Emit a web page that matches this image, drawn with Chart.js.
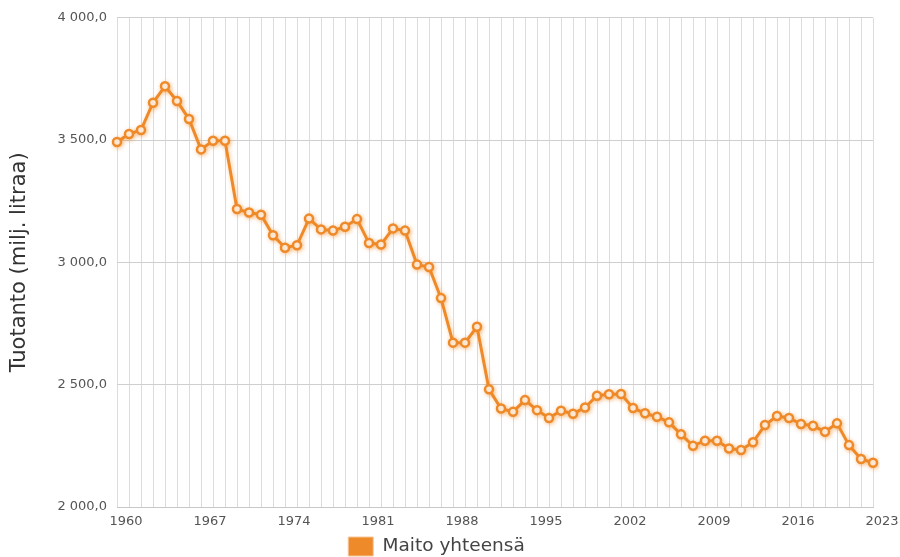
<!DOCTYPE html>
<html>
<head>
<meta charset="utf-8">
<script src="https://cdn.jsdelivr.net/npm/chart.js@4"></script>
<style>
  html, body { margin: 0; padding: 0; background: #fff; }
  #wrap { width: 900px; height: 557px; }
</style>
</head>
<body>
<div id="wrap"><canvas id="chart-canvas"></canvas></div>
<script>
// Maidon tuotanto 1960-2023 (milj. litraa), luettu kuvasta
const years = [];
for (let y = 1960; y <= 2023; y++) years.push(String(y));

const maito = [
    3492, 3525, 3541, 3653, 3720, 3660, 3586, 3462, 3497, 3497,
    3218, 3204, 3195, 3111, 3060, 3070, 3179, 3135, 3130, 3146,
    3177, 3079, 3073, 3139, 3130, 2991, 2981, 2854, 2672, 2672,
    2737, 2481, 2403, 2389, 2437, 2396, 2364, 2394, 2381, 2407,
    2455, 2461, 2462, 2405, 2383, 2369, 2346, 2297, 2250, 2271,
    2271, 2239, 2233, 2265, 2335, 2372, 2364, 2339, 2332, 2308,
    2342, 2253, 2196, 2181
];

const yTicks = [2000, 2500, 3000, 3500, 4000];

const orange = "#ef8a2a";

function fiNumber(v) {
    const s = Math.round(v).toString().replace(/\B(?=(\d{3})+(?!\d))/g, " ");
    return s + ",0";
}

const glow = {
    id: "glow",
    beforeDatasetDraw(chart) {
        const ctx = chart.ctx;
        ctx.save();
        ctx.shadowColor = "rgba(240,140,40,0.45)";
        ctx.shadowBlur = 4;
        ctx.shadowOffsetX = 1;
        ctx.shadowOffsetY = 1;
    },
    afterDatasetDraw(chart) {
        chart.ctx.restore();
    }
};

const chart = new Chart(document.getElementById("chart-canvas"), {
    type: "line",
    data: {
        labels: years,
        datasets: [{
            label: "Maito yhteensä",
            data: maito,
            borderColor: orange,
            backgroundColor: orange,
            borderWidth: 3,
            pointRadius: 4,
            pointBorderWidth: 2.5,
            pointBackgroundColor: "#fff",
            pointBorderColor: orange,
            tension: 0
        }]
    },
    options: {
        responsive: true,
        maintainAspectRatio: false,
        animation: false,
        layout: { padding: { top: 14, right: 27, left: 0, bottom: -9 } },
        scales: {
            x: {
                offset: false,
                grid: { color: "#dcdcdc", lineWidth: 1, drawTicks: false },
                border: { color: "#c8c8c8" },
                ticks: {
                    autoSkip: false,
                    maxRotation: 0,
                    labelOffset: 9,
                    padding: 7,
                    color: "#555",
                    font: { family: "DejaVu Sans", size: 13 },
                    callback: function(val, i) {
                        const y = Number(years[i]);
                        return (y - 1960) % 7 === 0 ? years[i] : "";
                    }
                },
                afterFit(scale) { scale.height = 26; }
            },
            y: {
                min: 2000,
                max: 4000,
                afterBuildTicks(scale) {
                    scale.ticks = yTicks.map(v => ({ value: v }));
                },
                grid: { color: "#cfcfcf", lineWidth: 1, drawTicks: false },
                border: { display: false },
                ticks: {
                    padding: 10,
                    color: "#555",
                    font: { family: "DejaVu Sans", size: 13 },
                    callback: v => fiNumber(v)
                },
                title: {
                    display: true,
                    text: "Tuotanto (milj. litraa)",
                    color: "#333",
                    font: { family: "DejaVu Sans", size: 21 },
                    padding: { top: 7, bottom: 6 }
                },
                afterFit(scale) { scale.width = 117; }
            }
        },
        plugins: {
            legend: {
                position: "bottom",
                labels: {
                    boxWidth: 25,
                    boxHeight: 19,
                    padding: 4,
                    color: "#444",
                    font: { family: "DejaVu Sans", size: 18.5 },
                    generateLabels: function(c) {
                        return [{
                            text: "Maito yhteensä",
                            fillStyle: orange,
                            strokeStyle: "#f6c79a",
                            lineWidth: 1,
                            fontColor: "#444",
                            datasetIndex: 0
                        }];
                    }
                }
            },
            tooltip: { enabled: false }
        }
    },
    plugins: [glow]
});
</script>
</body>
</html>
